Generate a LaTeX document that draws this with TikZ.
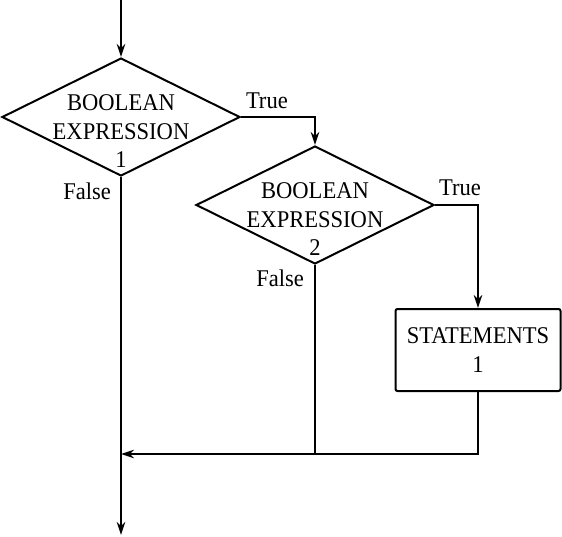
\documentclass[tikz,border=0pt]{standalone}
\usepackage{fontspec}
\setmainfont{Liberation Serif}[FakeStretch=0.94]
\usetikzlibrary{shapes.geometric,arrows.meta}
\begin{document}
\begin{tikzpicture}[>={Stealth[length=13pt,width=8.5pt,inset=4pt]},x=1pt,y=-1pt,line width=2pt,
  font=\fontsize{24}{28.7}\selectfont,
  cond/.style={diamond,draw,minimum width=238pt,minimum height=118pt,inner sep=0pt},
  stmt/.style={draw,rounded corners=2pt,minimum width=165pt,minimum height=82pt,align=center},
  txt/.style={align=center,inner sep=0pt}]
\useasboundingbox (0,0) rectangle (562,536);
\coordinate (in) at (121,0);
\node[cond] (b1) at (121,117) {};
\node[txt] (t1) at (121,131.3) {BOOLEAN\\EXPRESSION\\1};
\node[cond] (b2) at (315,205) {};
\node[txt] (t2) at (315,219.3) {BOOLEAN\\EXPRESSION\\2};
\node[stmt] (s1) at (478,350) {STATEMENTS\\1};
\coordinate (m) at (121,454);
\coordinate (out) at (121,535);
\draw[->] (in) -- (b1.north);
\draw[->] (b1.east) -| (b2.north);
\draw[->] (b2.east) -| (s1.north);
\draw[->] (b1.south) -- (out);
\draw[->] (s1.south) |- (m);
\draw (b2.south) -- (b2.south |- m);
\node[anchor=base west,inner sep=0pt] (y1) at (245,108) {True};
\node[anchor=base east,inner sep=0pt] (n1) at (112,199) {False};
\node[anchor=base west,inner sep=0pt] (y2) at (438,195) {True};
\node[anchor=base east,inner sep=0pt] (n2) at (305,286) {False};
\end{tikzpicture}
\end{document}
